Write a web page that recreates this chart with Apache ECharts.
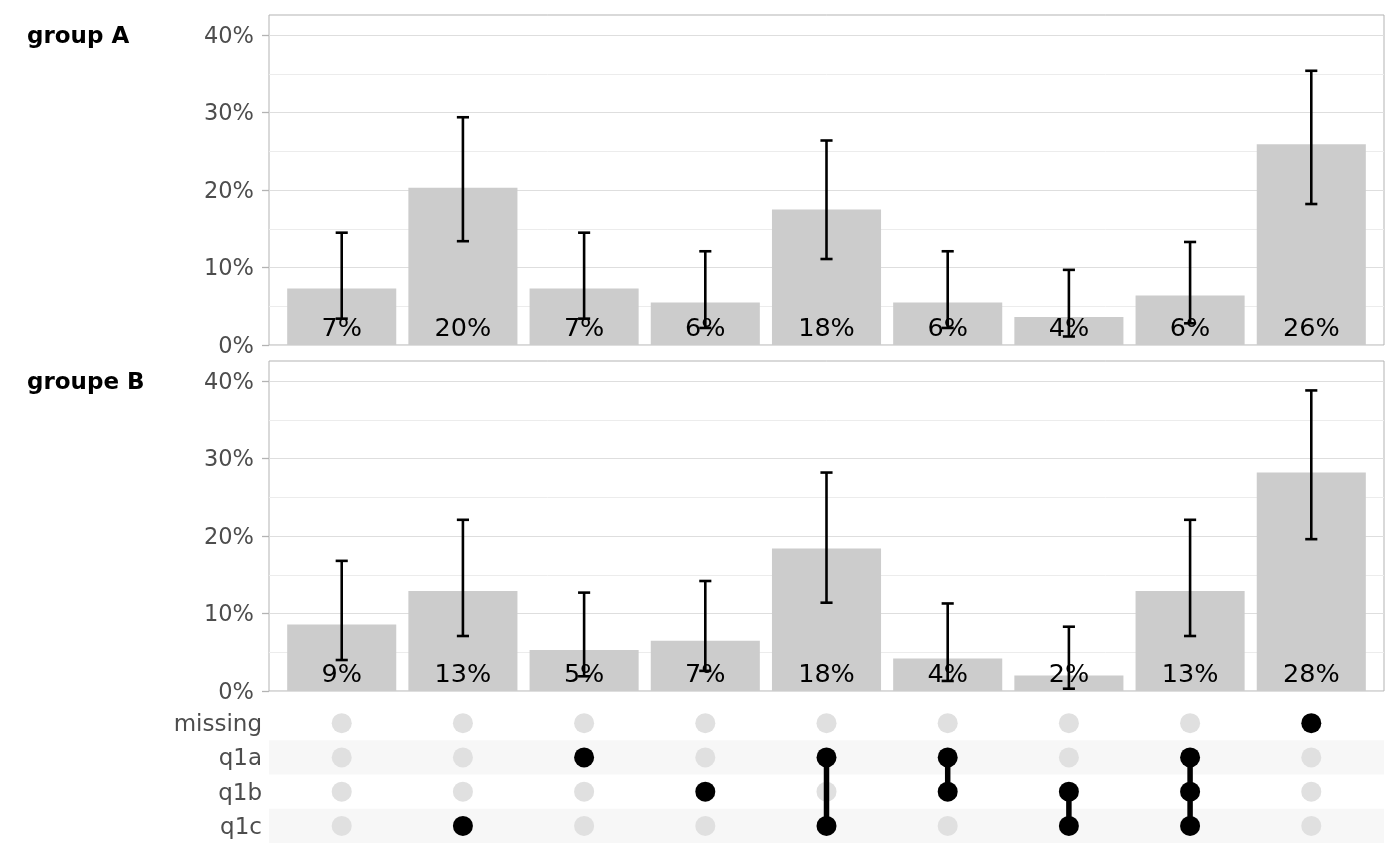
<!DOCTYPE html>
<html><head><meta charset="utf-8">
<script src="https://cdn.jsdelivr.net/npm/echarts@6/dist/echarts.min.js"></script>
<style>html,body{margin:0;padding:0;background:#fff}#chart{width:1400px;height:866px}</style>
</head><body><div id="chart"></div>
<script>
// ---- data ----
const categories = ['none', 'q1c', 'q1a', 'q1b', 'q1a-q1c', 'q1a-q1b', 'q1b-q1c', 'q1a-q1b-q1c', 'missing'];
const sets = ['missing', 'q1a', 'q1b', 'q1c'];
const combos = [[], ['q1c'], ['q1a'], ['q1b'], ['q1a', 'q1c'], ['q1a', 'q1b'], ['q1b', 'q1c'], ['q1a', 'q1b', 'q1c'], ['missing']];
const facetLabels = ['group A', 'groupe B'];

const valuesA = [7.3, 20.3, 7.3, 5.5, 17.5, 5.5, 3.6, 6.4, 25.9];
const lowA    = [3.4, 13.4, 3.4, 2.2, 11.1, 2.2, 1.1, 2.8, 18.2];
const highA   = [14.5, 29.4, 14.5, 12.1, 26.4, 12.1, 9.7, 13.3, 35.4];

const valuesB = [8.6, 12.9, 5.3, 6.5, 18.4, 4.2, 2.0, 12.9, 28.2];
const lowB    = [4.0, 7.1, 1.9, 2.6, 11.4, 1.3, 0.3, 7.1, 19.6];
const highB   = [16.8, 22.1, 12.7, 14.2, 28.2, 11.3, 8.3, 22.1, 38.8];

const yTicks = [0, 10, 20, 30, 40];
const yMax = 42.6;

// ---- styling ----
const FONT = '"DejaVu Sans", sans-serif';
const panels = [
  { values: valuesA, low: lowA, high: highA },
  { values: valuesB, low: lowB, high: highB }
];
const panelTops = [15, 361];

const grids = panelTops.map(t => ({
  left: 269, top: t, width: 1115, height: 330,
  show: true, borderColor: '#b3b3b3', borderWidth: 1, backgroundColor: '#ffffff'
}));
grids.push({ left: 269, top: 706, width: 1115, height: 137 });

const xAxes = [0, 1, 2].map(g => ({
  type: 'value', gridIndex: g, min: -0.6, max: categories.length - 0.4, show: false,
  axisLine: { onZero: false }
}));

const yAxes = [0, 1].map(g => ({
  type: 'value', gridIndex: g, min: 0, max: yMax, interval: 10, position: 'left',
  axisLine: { show: false, onZero: false },
  axisTick: { show: true, length: 7, lineStyle: { color: '#b3b3b3', width: 1.3 }, customValues: yTicks },
  axisLabel: {
    fontSize: 22.5, color: '#4d4d4d', fontFamily: FONT, margin: 15, customValues: yTicks,
    verticalAlign: 'top', lineHeight: 4,
    formatter: v => (v % 10 === 0 ? v + '%' : '')
  },
  splitLine: { show: true, lineStyle: { color: '#dedede', width: 1.2 } },
  minorTick: { show: false, splitNumber: 2 },
  minorSplitLine: { show: true, lineStyle: { color: '#ececec', width: 1 } }
}));
yAxes.push({
  type: 'category', gridIndex: 2, data: sets, inverse: true, position: 'left',
  axisLine: { show: false, onZero: false }, axisTick: { show: false },
  axisLabel: { fontSize: 23, color: '#4d4d4d', fontFamily: FONT, margin: 7,
               verticalAlign: 'top', lineHeight: 4 },
  splitLine: { show: false },
  splitArea: { show: true, areaStyle: { color: ['rgba(255,255,255,0)', '#f7f7f7'] } }
});

const series = [];
panels.forEach((p, g) => {
  series.push({
    type: 'custom', xAxisIndex: g, yAxisIndex: g, z: 2,
    data: p.values.map((v, i) => [i, v]),
    encode: { x: 0, y: 1 },
    renderItem: (params, api) => {
      const x = api.value(0), v = api.value(1);
      const a = api.coord([x - 0.45, v]);
      const b = api.coord([x + 0.45, 0]);
      return { type: 'rect', shape: { x: a[0], y: a[1], width: b[0] - a[0], height: b[1] - a[1] },
               style: { fill: '#cccccc' } };
    }
  });
  series.push({
    type: 'custom', xAxisIndex: g, yAxisIndex: g, z: 3,
    data: p.values.map((v, i) => [i, v]),
    encode: { x: 0, y: 1 },
    renderItem: (params, api) => {
      const x = api.value(0), v = api.value(1);
      const c = api.coord([x, 0]);
      return { type: 'text', style: {
        text: Math.round(v) + '%', x: c[0], y: c[1] - 16,
        fill: '#000000', font: '25.5px ' + FONT,
        align: 'center', verticalAlign: 'middle', textAlign: 'center', textVerticalAlign: 'middle'
      } };
    }
  });
  series.push({
    type: 'custom', xAxisIndex: g, yAxisIndex: g, z: 4,
    data: p.low.map((l, i) => [i, l, p.high[i]]),
    encode: { x: 0, y: [1, 2] },
    renderItem: (params, api) => {
      const x = api.value(0), lo = api.value(1), hi = api.value(2);
      const pLo = api.coord([x, lo]), pHi = api.coord([x, hi]);
      const cl = api.coord([x - 0.05, lo]), cr = api.coord([x + 0.05, lo]);
      const st = { stroke: '#000000', lineWidth: 2.6 };
      return { type: 'group', children: [
        { type: 'line', shape: { x1: pLo[0], y1: pLo[1], x2: pHi[0], y2: pHi[1] }, style: st },
        { type: 'line', shape: { x1: cl[0], y1: pLo[1], x2: cr[0], y2: pLo[1] }, style: st },
        { type: 'line', shape: { x1: cl[0], y1: pHi[1], x2: cr[0], y2: pHi[1] }, style: st }
      ] };
    }
  });
});

// matrix
const inactive = [], active = [], links = [];
combos.forEach((c, i) => {
  sets.forEach(s => { (c.includes(s) ? active : inactive).push([i, s]); });
  if (c.length > 1) {
    const idx = c.map(s => sets.indexOf(s));
    links.push([i, Math.min(...idx), Math.max(...idx)]);
  }
});
series.push({
  type: 'scatter', xAxisIndex: 2, yAxisIndex: 2, z: 2, symbolSize: 20,
  itemStyle: { color: '#e0e0e0', opacity: 1 }, data: inactive, silent: true
});
series.push({
  type: 'custom', xAxisIndex: 2, yAxisIndex: 2, z: 3,
  data: links, encode: { x: 0, y: 1 },
  renderItem: (params, api) => {
    const x = api.value(0);
    const a = api.coord([x, api.value(1)]), b = api.coord([x, api.value(2)]);
    return { type: 'line', shape: { x1: a[0], y1: a[1], x2: b[0], y2: b[1] },
             style: { stroke: '#000000', lineWidth: 5.5 } };
  }
});
series.push({
  type: 'scatter', xAxisIndex: 2, yAxisIndex: 2, z: 4, symbolSize: 20,
  itemStyle: { color: '#000000', opacity: 1 }, data: active, silent: true
});

const graphics = facetLabels.map((t, g) => ({
  type: 'text', x: 27, y: panelTops[g] + 22,
  style: { text: t, font: 'bold 23px ' + FONT, fill: '#000000',
           verticalAlign: 'middle', textVerticalAlign: 'middle' }
}));

const chart = echarts.init(document.getElementById('chart'), null, { renderer: 'canvas' });
chart.setOption({
  animation: false,
  backgroundColor: '#ffffff',
  grid: grids,
  xAxis: xAxes,
  yAxis: yAxes,
  series: series,
  graphic: graphics
});
</script>
</body></html>
